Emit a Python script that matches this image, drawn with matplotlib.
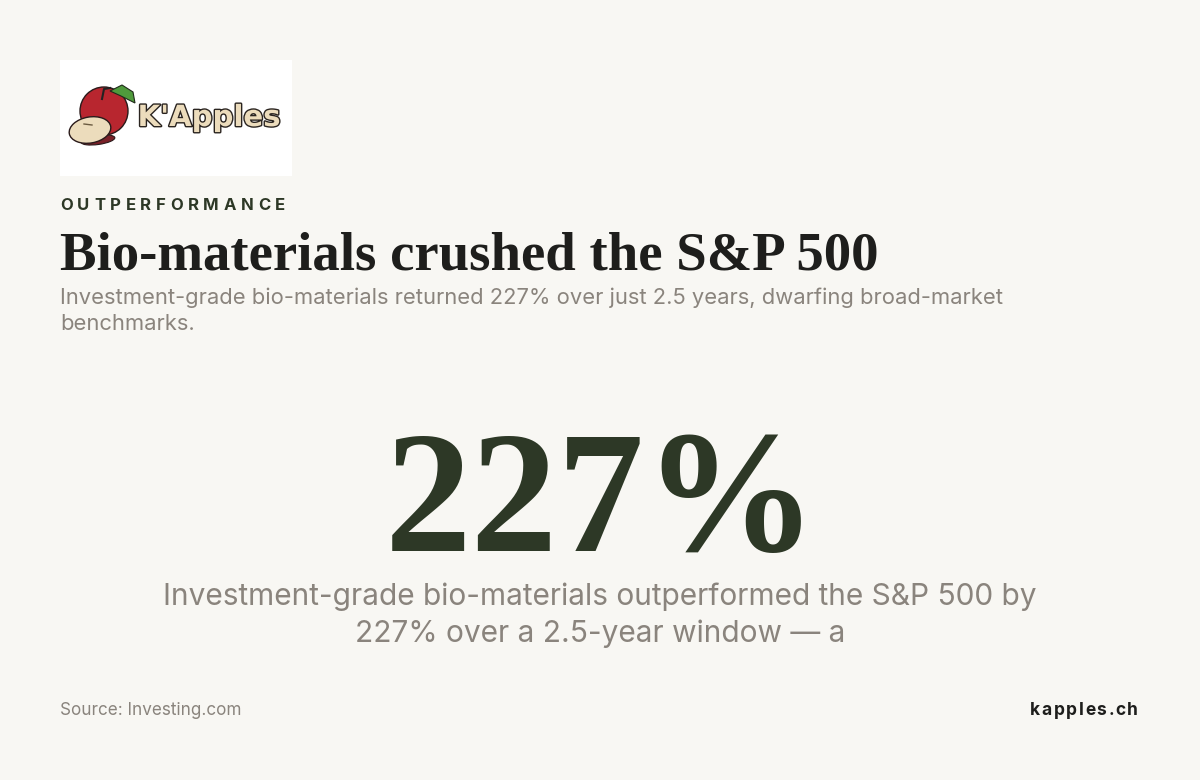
import matplotlib
matplotlib.use("Agg")
import matplotlib.pyplot as plt
from matplotlib.patches import Rectangle, Circle, Ellipse, Polygon
import matplotlib.patheffects as pe

# --- content ---
kicker = "OUTPERFORMANCE"
title = "Bio-materials crushed the S&P 500"
subtitle_lines = ["Investment-grade bio-materials returned 227% over just 2.5 years, dwarfing broad-market",
                  "benchmarks."]
big_value = "227%"
desc_lines = ["Investment-grade bio-materials outperformed the S&P 500 by",
              "227% over a 2.5-year window \u2014 a"]
source = "Source: Investing.com"
brand = "kapples.ch"

BG = "#f8f7f3"
DARK = "#2d3826"
GREY = "#8a847d"
INK = "#1e1e1c"

W, H = 1200, 780
fig = plt.figure(figsize=(12, 7.8), dpi=100, facecolor=BG)
ax = fig.add_axes([0, 0, 1, 1])
ax.set_xlim(0, W)
ax.set_ylim(H, 0)
ax.axis("off")
ax.set_facecolor(BG)
renderer = fig.canvas.get_renderer()


def width_of(t):
    return t.get_window_extent(renderer=renderer).width


def spaced(text, x, y, spacing, **kw):
    # draw text char by char with extra tracking
    for ch in text:
        t = ax.text(x, y, ch, ha="left", va="baseline", **kw)
        x += width_of(t) + spacing
    return x


def spaced_width(text, spacing, **kw):
    total = 0
    for ch in text:
        t = ax.text(0, 0, ch, **kw)
        total += width_of(t) + spacing
        t.remove()
    return total - spacing


def fit_text(text, x, y, target_w, size, **kw):
    t = ax.text(x, y, text, fontsize=size, **kw)
    t.set_fontsize(size * target_w / width_of(t))
    return t


# --- logo ---
ax.add_patch(Rectangle((60, 60), 232, 116, facecolor="white", edgecolor="none"))
ax.add_patch(Circle((104, 111), 24, facecolor="#b8262f", edgecolor="#2a1a1a", lw=1))
ax.add_patch(Polygon([(110, 91), (122, 85), (133, 92), (135, 103), (121, 96)],
                     facecolor="#4f9a3c", edgecolor="#1f2a1a", lw=0.8))
ax.plot([102, 104, 110], [99, 89, 88], color="#222", lw=1.5)
ax.add_patch(Ellipse((98, 140), 34, 9, angle=-8, facecolor="#7a2028", edgecolor="#2a1a1a", lw=0.8))
ax.add_patch(Ellipse((90, 130), 42, 26, angle=-10, facecolor="#ecdcbc", edgecolor="#2a1a1a", lw=1))
ax.plot([84, 92], [124, 125], color="#6a5a40", lw=1)
ax.text(209, 118, "K'Apples", fontsize=21, fontweight="bold", family="DejaVu Sans",
        color="#ecdcbc", ha="center", va="center",
        path_effects=[pe.withStroke(linewidth=2, foreground="#2a2420")])

# --- header ---
spaced(kicker, 60, 210, 4.6, fontsize=12, fontweight="bold", color=DARK, family="Inter")
fit_text(title, 60, 270, 818, 40, fontweight="bold", color=INK,
         family="Liberation Serif", ha="left", va="baseline")
for i, line in enumerate(subtitle_lines):
    ax.text(60, 304 + i * 26, line, fontsize=15.8, color=GREY, family="Inter",
            ha="left", va="baseline")

# --- big number ---
fit_text(big_value, 385, 551, 433, 120, fontweight="bold", color=DARK,
         family="Liberation Serif", ha="left", va="baseline")

for i, line in enumerate(desc_lines):
    ax.text(600, 605 + i * 37, line, fontsize=21.5, color=GREY, family="Inter",
            ha="center", va="baseline")

# --- footer ---
ax.text(60, 715, source, fontsize=12.3, color=GREY, family="Inter", ha="left", va="baseline")
bkw = dict(fontsize=12.5, fontweight="bold", color=INK, family="Inter")
spaced(brand, 1138 - spaced_width(brand, 1.6, **bkw), 715, 1.6, **bkw)

fig.savefig("out.png", dpi=100, facecolor=BG)
